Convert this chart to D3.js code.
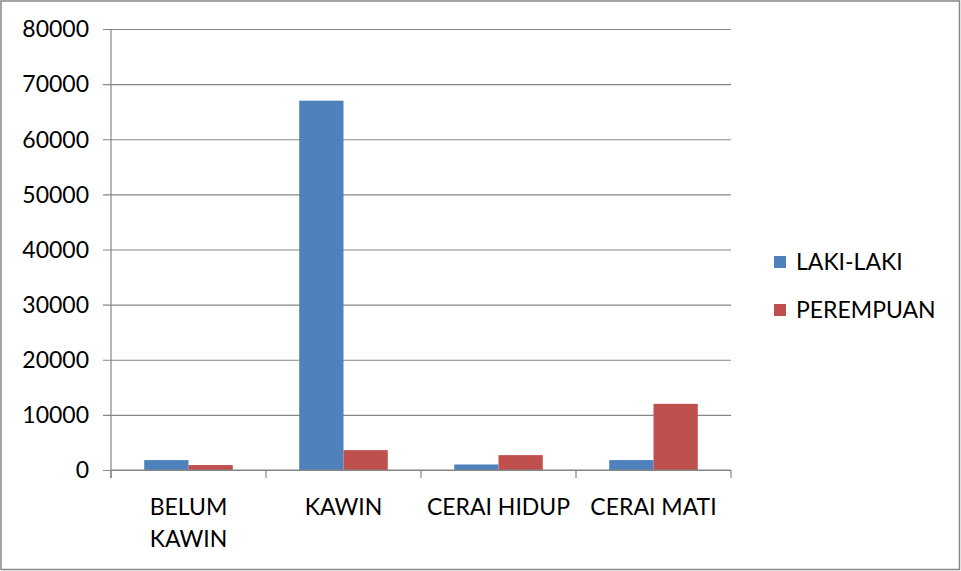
<!DOCTYPE html>
<html><head><meta charset="utf-8">
<script src="https://cdn.jsdelivr.net/npm/d3@7"></script>
<style>html,body{margin:0;padding:0;background:#fff}svg{display:block}text{font-family:Lato,"Open Sans",sans-serif;fill:#000}</style>
</head><body>
<script>
const categories = [["BELUM","KAWIN"],["KAWIN"],["CERAI HIDUP"],["CERAI MATI"]];
const seriesNames = ["LAKI-LAKI","PEREMPUAN"];
const lakiLaki = [1800, 67000, 1000, 1800];
const perempuan = [900, 3600, 2700, 12000];
const yTicks = [0,10000,20000,30000,40000,50000,60000,70000,80000];
const colors = ["#4F81BD","#C0504D"];

(function(){
const W=961,H=571;
const svg=d3.select("body").append("svg").attr("width",W).attr("height",H);
svg.append("rect").attr("x",1).attr("y",1).attr("width",W-2.5).attr("height",H-2.5)
  .attr("fill","#fff").attr("stroke","#868686").attr("stroke-width",1.5);

const pL=111,pR=731,pT=29,pB=470;
const x=d3.scaleBand().domain(d3.range(categories.length)).range([pL,pR]);
const y=d3.scaleLinear().domain([0,80000]).range([pB,pT]);
const bw=x.bandwidth()/3.5;

const yAxis=d3.axisLeft(y).tickValues(yTicks).tickSize(pR-pL+8).tickFormat(d=>d);
const gy=svg.append("g").attr("transform",`translate(${pR},0)`).call(yAxis);
gy.select(".domain").remove();
gy.selectAll(".tick line").attr("stroke","#868686").attr("stroke-width",1.2);
gy.selectAll(".tick text").attr("x",-(pR-pL)-22).attr("font-size",23).attr("dy","0.34em");

svg.append("line").attr("x1",pL).attr("x2",pL).attr("y1",pT).attr("y2",pB+8)
  .attr("stroke","#868686").attr("stroke-width",1.2);

const data=[lakiLaki,perempuan];
data.forEach((arr,si)=>{
  svg.append("g").selectAll("rect").data(arr).join("rect")
    .attr("x",(d,i)=>x(i)+x.bandwidth()/2-bw+si*bw)
    .attr("y",d=>y(d)).attr("width",bw).attr("height",d=>pB-y(d))
    .attr("fill",colors[si]);
});

svg.append("line").attr("x1",pL).attr("x2",pR).attr("y1",pB).attr("y2",pB)
  .attr("stroke","#868686").attr("stroke-width",1.2);
const bounds=d3.range(categories.length+1).map(i=>pL+i*x.step());
svg.append("g").selectAll("line").data(bounds).join("line")
  .attr("x1",d=>d).attr("x2",d=>d).attr("y1",pB).attr("y2",pB+8)
  .attr("stroke","#868686").attr("stroke-width",1.2);
const xl=svg.append("g").selectAll("text").data(categories).join("text")
  .attr("text-anchor","middle").attr("font-size",23)
  .attr("transform",(d,i)=>`translate(${x(i)+x.bandwidth()/2},515)`);
xl.each(function(d){
  d3.select(this).selectAll("tspan").data(d).join("tspan")
    .attr("x",0).attr("y",(t,j)=>j*32).text(t=>t);
});

const lg=svg.append("g").selectAll("g").data(seriesNames).join("g")
  .attr("transform",(d,i)=>`translate(774,${256+i*48})`);
lg.append("rect").attr("width",12).attr("height",12).attr("fill",(d,i)=>colors[i]);
lg.append("text").attr("x",22).attr("y",6).attr("dy","0.36em").attr("font-size",23).text(d=>d);
})();
</script>
</body></html>
